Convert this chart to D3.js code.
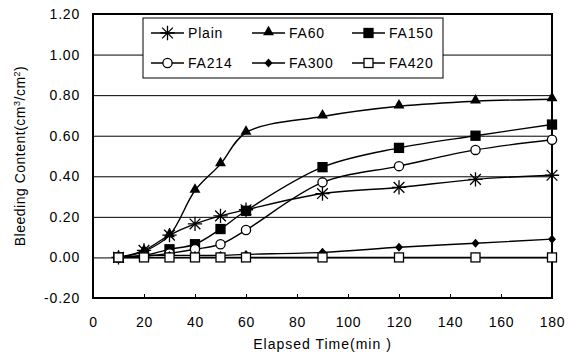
<!DOCTYPE html>
<html>
<head>
<meta charset="utf-8">
<script src="https://cdn.jsdelivr.net/npm/d3@7"></script>
<style>
  body { margin: 0; background: #fff; }
  text { font-family: 'Liberation Sans', Arial, sans-serif; fill: #000; }
</style>
</head>
<body>
<svg id="mainsvg" width="577" height="355"></svg>
<script>
const times = [10, 20, 30, 40, 50, 60, 90, 120, 150, 180];
const plain = [0, 0.035, 0.11, 0.165, 0.205, 0.235, 0.315, 0.345, 0.385, 0.405];
const fa60 = [0, 0.03, 0.11, 0.33, 0.46, 0.615, 0.695, 0.745, 0.77, 0.78];
const fa150 = [0, 0.01, 0.04, 0.065, 0.14, 0.23, 0.445, 0.54, 0.60, 0.655];
const fa214 = [0, 0.005, 0.02, 0.04, 0.065, 0.135, 0.37, 0.45, 0.53, 0.58];
const fa300 = [0, 0.01, 0.01, 0.01, 0.01, 0.015, 0.025, 0.05, 0.07, 0.09];
const fa420 = [0, 0, 0, 0, 0, 0, 0, 0, 0, 0];

const seriesNames = ['Plain', 'FA60', 'FA150', 'FA214', 'FA300', 'FA420'];
const seriesValues = [plain, fa60, fa150, fa214, fa300, fa420];
const markerTypes = ['star', 'triangle', 'square', 'circle', 'diamond', 'opensquare'];

const xTicks = [0, 20, 40, 60, 80, 100, 120, 140, 160, 180];
const yTicks = [-0.2, 0, 0.2, 0.4, 0.6, 0.8, 1.0, 1.2];
const yTickLabels = ['-0.20', '0.00', '0.20', '0.40', '0.60', '0.80', '1.00', '1.20'];

const svg = d3.select('#mainsvg');
const margin = { top: 14, right: 25, bottom: 57, left: 93 };
const width = +svg.attr('width');
const height = +svg.attr('height');
const innerWidth = width - margin.left - margin.right;
const innerHeight = height - margin.top - margin.bottom;

const xScale = d3.scaleLinear().domain([0, 180]).range([0, innerWidth]);
const yScale = d3.scaleLinear().domain([-0.2, 1.2]).range([innerHeight, 0]);

const g = svg.append('g')
  .attr('transform', `translate(${margin.left}, ${margin.top})`);

// gridlines
g.append('g')
  .call(d3.axisLeft(yScale).tickValues(yTicks.slice(1, -1)).tickSize(-innerWidth).tickFormat(''))
  .call(a => a.select('.domain').remove())
  .selectAll('line').attr('stroke', '#000').attr('stroke-width', 1);

// y tick labels
g.append('g')
  .call(d3.axisLeft(yScale).tickValues(yTicks).tickSize(0).tickPadding(13)
    .tickFormat((d, i) => yTickLabels[i]))
  .call(a => a.select('.domain').remove())
  .selectAll('text').style('font-size', '14px').style('letter-spacing', '0.8px');

// x axis, ticks inward
g.append('g')
  .attr('transform', `translate(0, ${innerHeight})`)
  .call(d3.axisBottom(xScale).tickValues(xTicks).tickSize(-4).tickPadding(19).tickFormat(d3.format('d')))
  .call(a => a.select('.domain').remove())
  .call(a => a.selectAll('line').attr('stroke', '#000'))
  .selectAll('text').style('font-size', '14px').style('letter-spacing', '0.8px');

// frame
g.append('rect')
  .attr('width', innerWidth).attr('height', innerHeight)
  .attr('fill', 'none').attr('stroke', '#000').attr('stroke-width', 2);

const line = d3.line()
  .x((d, i) => xScale(times[i]))
  .y(d => yScale(d))
  .curve(d3.curveCatmullRom);

const drawMarker = (sel, type, x, y, s) => {
  if (type === 'star') {
    const r = s * 0.65;
    sel.append('path')
      .attr('d', `M${x - r},${y}L${x + r},${y}M${x},${y - r}L${x},${y + r}` +
        `M${x - r * 0.75},${y - r * 0.75}L${x + r * 0.75},${y + r * 0.75}` +
        `M${x - r * 0.75},${y + r * 0.75}L${x + r * 0.75},${y - r * 0.75}`)
      .attr('stroke', '#000').attr('stroke-width', 1.3).attr('fill', 'none');
  } else if (type === 'triangle') {
    sel.append('path')
      .attr('d', d3.symbol(d3.symbolTriangle, 52)())
      .attr('transform', `translate(${x},${y - 1})`)
      .attr('fill', '#000');
  } else if (type === 'square' || type === 'opensquare') {
    sel.append('rect')
      .attr('x', x - 4.5).attr('y', y - 4.5).attr('width', 9).attr('height', 9)
      .attr('fill', type === 'square' ? '#000' : '#fff')
      .attr('stroke', '#000').attr('stroke-width', 1.3);
  } else if (type === 'circle') {
    sel.append('circle')
      .attr('cx', x).attr('cy', y).attr('r', 4.6)
      .attr('fill', '#fff').attr('stroke', '#000').attr('stroke-width', 1.3);
  } else if (type === 'diamond') {
    sel.append('path')
      .attr('d', `M${x},${y - 4.5}L${x + 4},${y}L${x},${y + 4.5}L${x - 4},${y}Z`)
      .attr('fill', '#000');
  }
};

seriesValues.forEach((vals, k) => {
  const sg = g.append('g');
  sg.append('path').datum(vals)
    .attr('d', line)
    .attr('fill', 'none').attr('stroke', '#000').attr('stroke-width', 1.4);
  vals.forEach((v, i) => drawMarker(sg, markerTypes[k], xScale(times[i]), yScale(v), 11));
});

// legend
const legend = svg.append('g');
legend.append('rect')
  .attr('x', 143).attr('y', 18).attr('width', 300).attr('height', 60)
  .attr('fill', '#fff').attr('stroke', '#000').attr('stroke-width', 1);
const legendCols = [151, 252, 352];
const legendRows = [33, 63];
seriesNames.forEach((name, k) => {
  const lx = legendCols[k % 3];
  const ly = legendRows[Math.floor(k / 3)];
  legend.append('line')
    .attr('x1', lx).attr('x2', lx + 33).attr('y1', ly).attr('y2', ly)
    .attr('stroke', '#000').attr('stroke-width', 1.4);
  drawMarker(legend, markerTypes[k], lx + 16.5, ly, 11);
  legend.append('text')
    .attr('x', lx + 37).attr('y', ly + 5)
    .style('font-size', '14px').style('letter-spacing', '0.8px')
    .text(name);
});

// axis titles
svg.append('text')
  .attr('x', margin.left + innerWidth / 2).attr('y', 349)
  .attr('text-anchor', 'middle')
  .style('font-size', '14px').style('letter-spacing', '1px')
  .text('Elapsed Time(min )');

const yTitle = svg.append('text')
  .attr('transform', `translate(25, ${margin.top + innerHeight / 2}) rotate(-90)`)
  .attr('text-anchor', 'middle')
  .style('font-size', '14px').style('letter-spacing', '0.5px');
yTitle.append('tspan').text('Bleeding Content(cm');
yTitle.append('tspan').attr('baseline-shift', 'super').style('font-size', '9px').text('3');
yTitle.append('tspan').text('/cm');
yTitle.append('tspan').attr('baseline-shift', 'super').style('font-size', '9px').text('2');
yTitle.append('tspan').text(')');
</script>
</body>
</html>
